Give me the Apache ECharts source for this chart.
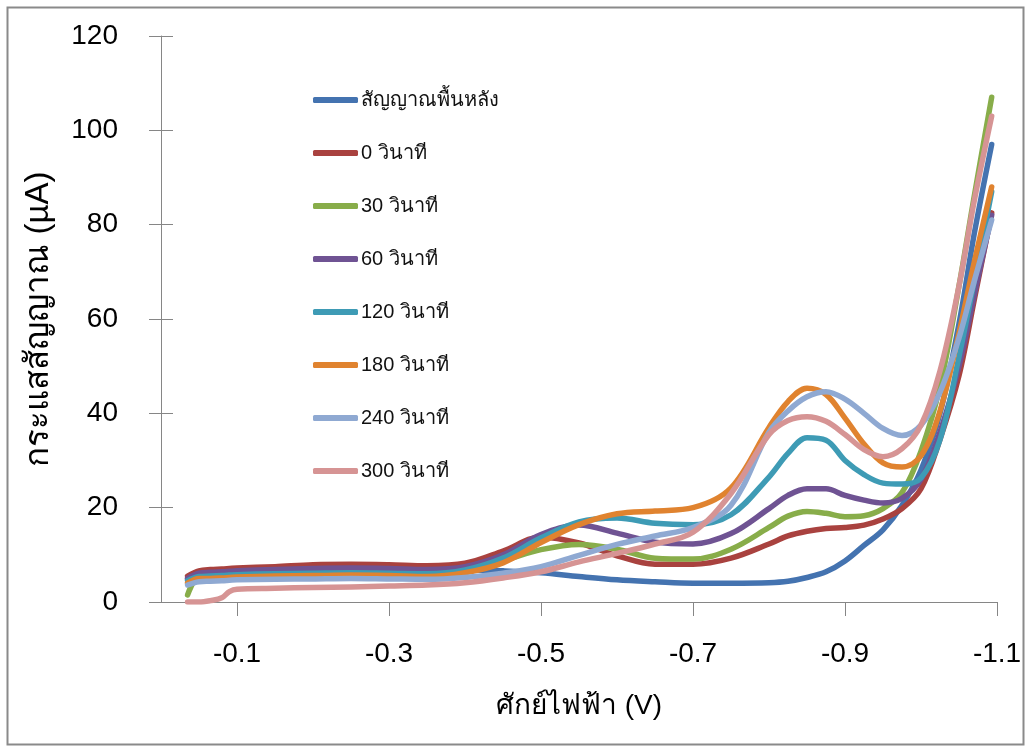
<!DOCTYPE html>
<html>
<head>
<meta charset="utf-8">
<title>กระแสสัญญาณเทียบกับศักย์ไฟฟ้า</title>
<script src="https://cdn.jsdelivr.net/npm/echarts@6/dist/echarts.min.js"></script>
<style>
  html, body { margin: 0; padding: 0; background: #ffffff; }
  #chart { width: 1030px; height: 749px; }
</style>
</head>
<body>
<div id="chart"></div>
<script>
// Potential sweep (V), shared by every scan
const potential = [-0.035, -0.05, -0.065, -0.08, -0.09, -0.1, -0.15, -0.2, -0.25, -0.3, -0.35, -0.4,
  -0.45, -0.5, -0.55, -0.6, -0.65, -0.7, -0.75, -0.8, -0.825, -0.85, -0.875, -0.9, -0.925, -0.95,
  -0.975, -1.0, -1.025, -1.05, -1.07, -1.093];

// Current (µA) for each scan
const background = [4.8, 5.8, 6.0, 6.1, 6.2, 6.3, 6.5, 6.7, 6.8, 6.8, 6.8, 6.8, 6.6, 6.2, 5.4, 4.7, 4.3,
  4.0, 4.0, 4.1, 4.4, 5.2, 6.4, 8.7, 12.0, 15.3, 20.5, 28.0, 40, 59, 78, 97];
const s0 = [5.5, 6.6, 6.9, 7.0, 7.1, 7.2, 7.5, 7.9, 8.0, 7.9, 7.7, 8.2, 10.8, 13.8, 12.5, 9.8, 8.0,
  8.0, 9.3, 12.3, 14.0, 15.0, 15.6, 15.8, 16.3, 17.6, 19.8, 24.0, 34.5, 48, 64, 82.5];
const s30 = [1.5, 5.6, 5.8, 5.9, 6.0, 6.0, 6.2, 6.4, 6.5, 6.4, 6.3, 7.2, 8.8, 11.1, 12.2, 11.2, 9.3,
  9.1, 11.2, 15.8, 18.2, 19.2, 18.8, 18.1, 18.3, 19.8, 23.2, 32, 45.7, 67, 86, 107];
const s60 = [5.0, 6.1, 6.3, 6.4, 6.5, 6.6, 6.9, 7.1, 7.2, 7.1, 6.9, 7.5, 10.0, 14.3, 16.3, 14.6, 12.7,
  12.3, 14.5, 19.8, 22.6, 24.0, 24.0, 22.6, 21.6, 21.0, 22.0, 26, 36, 50, 65, 82];
const s120 = [4.5, 5.4, 5.5, 5.6, 5.7, 5.8, 6.0, 6.1, 6.2, 6.1, 6.0, 6.8, 9.3, 13.6, 17.0, 17.8, 16.7,
  16.4, 18.5, 26.5, 31.5, 34.8, 34.3, 30.0, 27.0, 25.2, 25.0, 26.3, 34.4, 52, 68, 87];
const s180 = [4.0, 5.0, 5.0, 5.1, 5.2, 5.3, 5.5, 5.6, 5.7, 5.6, 5.4, 6.2, 8.3, 12.6, 16.4, 18.7, 19.3,
  20.0, 24.2, 37.0, 42.5, 45.3, 44.0, 39.0, 33.5, 29.5, 28.6, 31, 40.5, 57, 72, 88];
const s240 = [3.6, 4.3, 4.4, 4.5, 4.6, 4.7, 4.8, 4.9, 5.0, 4.9, 4.8, 5.2, 6.1, 7.5, 9.9, 12.2, 14.0,
  15.8, 20.5, 36.0, 40.5, 43.5, 44.6, 43.0, 40.0, 36.8, 35.3, 37.5, 44.5, 56, 68, 81];
const s300 = [0, 0, 0.3, 0.9, 2.2, 2.7, 2.9, 3.1, 3.2, 3.4, 3.6, 4.1, 5.1, 6.4, 8.5, 10.3, 12.3,
  14.8, 23.0, 35.5, 38.5, 39.3, 38.3, 35.5, 32.3, 30.8, 32.5, 37.5, 49, 67, 85, 103];

const seriesNames = ['สัญญาณพื้นหลัง', '0 วินาที', '30 วินาที', '60 วินาที',
  '120 วินาที', '180 วินาที', '240 วินาที', '300 วินาที'];
const seriesValues = [background, s0, s30, s60, s120, s180, s240, s300];
const seriesColors = ['#4473B0', '#A9423F', '#88AD4A', '#6F5393', '#3E9BB5', '#E0832F', '#8FA9D2', '#D69494'];

const xTicks = [-0.1, -0.3, -0.5, -0.7, -0.9, -1.1];
const yTicks = { min: 0, max: 120, step: 20 };

const FONT = "'Liberation Sans', 'Noto Sans', 'DejaVu Sans', sans-serif";
const AXIS_GREY = '#868686';

const chart = echarts.init(document.getElementById('chart'), null, { renderer: 'canvas' });

const series = seriesValues.map((vals, i) => ({
  name: seriesNames[i],
  type: 'line',
  data: potential.map((e, k) => [e, vals[k]]),
  smooth: 0.35,
  showSymbol: false,
  symbol: 'none',
  lineStyle: { color: seriesColors[i], width: 5.5, cap: 'round', join: 'round' },
  itemStyle: { color: seriesColors[i] },
  emphasis: { disabled: true },
  z: 2 + i
}));

chart.setOption({
  animation: false,
  backgroundColor: '#ffffff',
  textStyle: { fontFamily: FONT },
  graphic: [{
    type: 'rect',
    shape: { x: 7.5, y: 7.5, width: 1016, height: 737 },
    style: { fill: 'none', stroke: '#8a8a8a', lineWidth: 2 },
    silent: true
  }],
  grid: { left: 161, right: 33, top: 36, bottom: 147, containLabel: false },
  legend: {
    orient: 'vertical',
    left: 313,
    top: 89,
    padding: 0,
    itemWidth: 45,
    itemHeight: 6,
    itemGap: 31,
    icon: 'roundRect',
    data: seriesNames.map((n) => ({ name: n })),
    textStyle: { fontFamily: FONT, fontSize: 20, color: '#111', lineHeight: 22, padding: [0, 0, 0, -2] },
    selectedMode: false
  },
  xAxis: {
    type: 'value',
    min: -1.1,
    max: 0,
    inverse: true,
    name: 'ศักย์ไฟฟ้า (V)',
    nameLocation: 'middle',
    nameGap: 90,
    nameTextStyle: { fontFamily: FONT, fontSize: 28, color: '#000' },
    axisLine: { show: true, onZero: false, lineStyle: { color: AXIS_GREY, width: 1 } },
    axisTick: { show: true, customValues: xTicks, length: 14, lineStyle: { color: AXIS_GREY } },
    axisLabel: { customValues: xTicks, margin: 38, fontSize: 28, color: '#000', fontFamily: FONT },
    splitLine: { show: false }
  },
  yAxis: [{
    type: 'value',
    min: yTicks.min,
    max: yTicks.max,
    interval: yTicks.step,
    name: 'กระแสสัญญาณ (µA)',
    nameLocation: 'middle',
    nameGap: 106,
    nameTextStyle: { fontFamily: FONT, fontSize: 33, color: '#000' },
    axisLine: { show: true, onZero: false, lineStyle: { color: AXIS_GREY, width: 1 } },
    axisTick: { show: true, length: 12, lineStyle: { color: AXIS_GREY } },
    axisLabel: { margin: 43, fontSize: 28, color: '#000', fontFamily: FONT },
    splitLine: { show: false }
  }, {
    type: 'value',
    position: 'left',
    min: yTicks.min,
    max: yTicks.max,
    interval: yTicks.step,
    axisLine: { show: false },
    axisTick: { show: true, inside: true, length: 12, lineStyle: { color: AXIS_GREY } },
    axisLabel: { show: false },
    splitLine: { show: false }
  }],
  series: series
});
</script>
</body>
</html>
